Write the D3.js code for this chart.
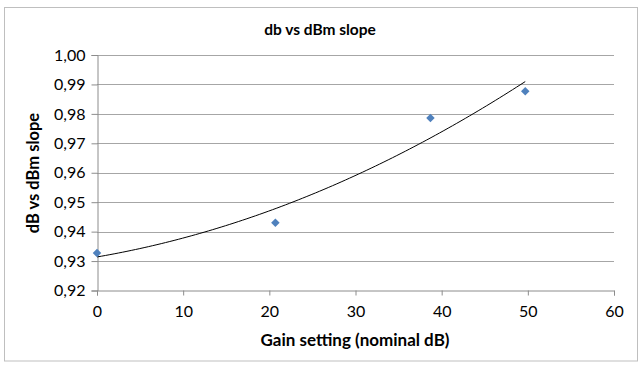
<!DOCTYPE html>
<html>
<head>
<meta charset="utf-8">
<script src="https://cdn.jsdelivr.net/npm/d3@7"></script>
<style>
  html, body { margin: 0; padding: 0; background: #fff; }
  svg { display: block; font-family: Lato, "Open Sans", sans-serif; }
</style>
</head>
<body>
<svg id="chart" width="640" height="371"></svg>
<script>
const title = "db vs dBm slope";
const xTitle = "Gain setting (nominal dB)";
const yTitle = "dB vs dBm slope";
const gainSetting = [0, 20.7, 38.7, 49.7];
const slope = [0.9327, 0.9430, 0.9786, 0.9877];
const xTicks = [0, 10, 20, 30, 40, 50, 60];
const yTicks = [0.92, 0.93, 0.94, 0.95, 0.96, 0.97, 0.98, 0.99, 1.00];

const svg = d3.select("#chart");
const m = { left: 97, right: 614, top: 55, bottom: 290.5 };

// outer frame
svg.append("rect").attr("x", 4.5).attr("y", 7.5).attr("width", 633).attr("height", 353.5)
  .attr("fill", "#fff").attr("stroke", "#bfbfbf").attr("stroke-width", 1);

const x = d3.scaleLinear().domain([0, 60]).range([m.left, m.right]);
const y = d3.scaleLinear().domain([0.92, 1.00]).range([m.bottom, m.top]);

const fmt = v => d3.format(".2f")(v).replace(".", ",");

// gridlines
svg.append("g").selectAll("line").data(yTicks.slice(1)).join("line")
  .attr("x1", m.left).attr("x2", m.right)
  .attr("y1", d => Math.round(y(d)) + 0.5).attr("y2", d => Math.round(y(d)) + 0.5)
  .attr("stroke", "#a6a6a6").attr("stroke-width", 1);

// y axis
const yAxis = svg.append("g").attr("transform", `translate(${m.left + 0.5},0)`)
  .call(d3.axisLeft(y).tickValues(yTicks).tickFormat(fmt).tickSize(6).tickPadding(6));
yAxis.select(".domain").attr("stroke", "#8c8c8c");
yAxis.selectAll(".tick line").attr("stroke", "#8c8c8c");
yAxis.selectAll(".tick text").attr("font-size", 16).attr("fill", "#000")
  .attr("font-family", "Lato, sans-serif");

// x axis
const xAxis = svg.append("g").attr("transform", `translate(0,${m.bottom})`)
  .call(d3.axisBottom(x).tickValues(xTicks).tickFormat(d3.format("d")).tickSize(5).tickPadding(10));
xAxis.select(".domain").attr("stroke", "#8c8c8c");
xAxis.selectAll(".tick line").attr("stroke", "#8c8c8c");
xAxis.selectAll(".tick text").attr("font-size", 16).attr("fill", "#000")
  .attr("font-family", "Lato, sans-serif");

// polynomial (order 2) least-squares trendline
function polyfit2(xs, ys) {
  const n = xs.length;
  let s = [0,0,0,0,0], t = [0,0,0];
  for (let i = 0; i < n; i++) {
    for (let k = 0; k < 5; k++) s[k] += Math.pow(xs[i], k);
    for (let k = 0; k < 3; k++) t[k] += ys[i] * Math.pow(xs[i], k);
  }
  const A = [[s[0],s[1],s[2],t[0]],[s[1],s[2],s[3],t[1]],[s[2],s[3],s[4],t[2]]];
  for (let i = 0; i < 3; i++) {
    let p = i;
    for (let r = i+1; r < 3; r++) if (Math.abs(A[r][i]) > Math.abs(A[p][i])) p = r;
    [A[i], A[p]] = [A[p], A[i]];
    for (let r = 0; r < 3; r++) if (r !== i) {
      const f = A[r][i] / A[i][i];
      for (let c = i; c < 4; c++) A[r][c] -= f * A[i][c];
    }
  }
  return [A[0][3]/A[0][0], A[1][3]/A[1][1], A[2][3]/A[2][2]];
}
const coef = polyfit2(gainSetting, slope);
const xMin = d3.min(gainSetting), xMax = d3.max(gainSetting);
const trend = d3.range(0, 101).map(i => {
  const xv = xMin + (xMax - xMin) * i / 100;
  return [xv, coef[0] + coef[1]*xv + coef[2]*xv*xv];
});
svg.append("path").datum(trend)
  .attr("d", d3.line().x(d => x(d[0])).y(d => y(d[1])))
  .attr("fill", "none").attr("stroke", "#000").attr("stroke-width", 1);

// markers
svg.append("g").selectAll("path").data(gainSetting.map((g, i) => [g, slope[i]])).join("path")
  .attr("d", d3.symbol().type(d3.symbolSquare).size(36))
  .attr("transform", d => `translate(${x(d[0])},${y(d[1])}) rotate(45)`)
  .attr("fill", "#4f81bd");

// titles
svg.append("text").attr("x", 320).attr("y", 35).attr("text-anchor", "middle")
  .attr("font-size", 15.5).attr("font-weight", "bold").text(title);
svg.append("text").attr("x", 355).attr("y", 346).attr("text-anchor", "middle")
  .attr("font-size", 17).attr("font-weight", "bold").text(xTitle);
svg.append("text").attr("transform", "translate(39,173) rotate(-90)").attr("text-anchor", "middle")
  .attr("font-size", 16.5).attr("font-weight", "bold").text(yTitle);
</script>
</body>
</html>
